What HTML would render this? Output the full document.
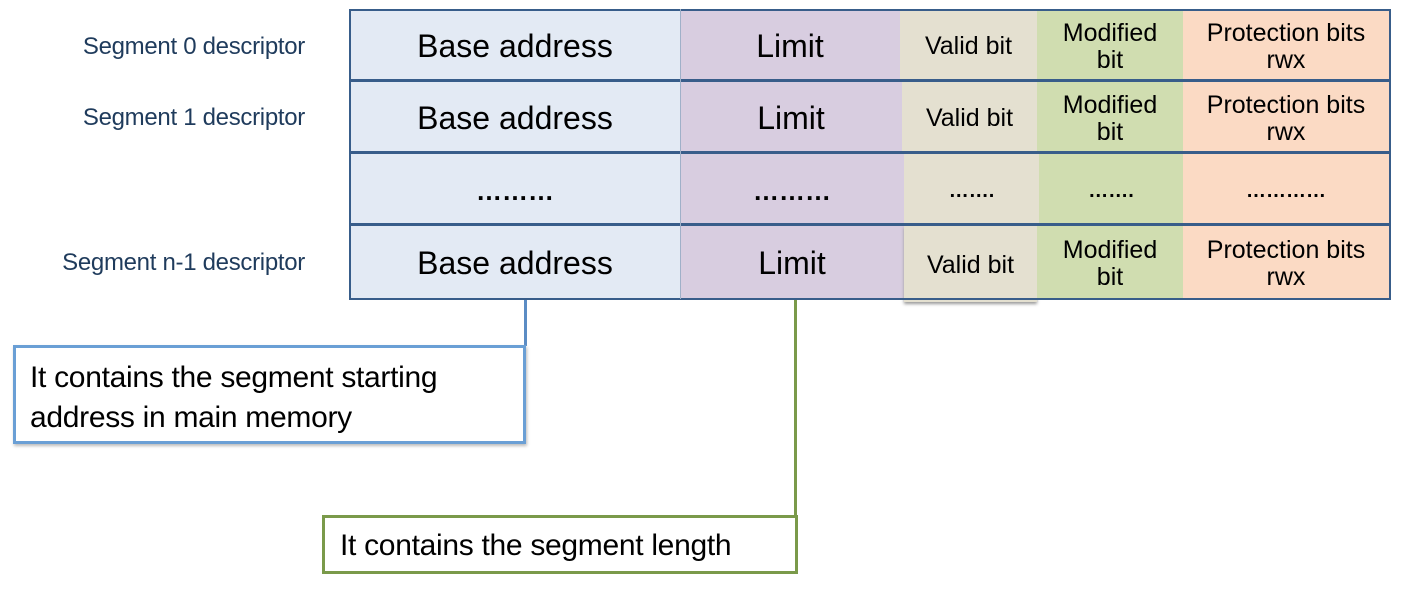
<!DOCTYPE html>
<html><head><style>
body{margin:0;width:1420px;height:602px;background:#fff;position:relative;font-family:"Liberation Sans",sans-serif;overflow:hidden}
.a{position:absolute;box-sizing:border-box}
.c{position:absolute;display:flex;align-items:center;justify-content:center;text-align:center;color:#000;box-sizing:border-box;line-height:1.1;padding-top:4px}
.lab{position:absolute;color:#1f3b5c;font-size:24px;width:305px;text-align:right;white-space:nowrap;letter-spacing:-0.3px}
.b{background:#e3eaf4;font-size:32px}
.l{background:#d8cde0;font-size:32px}
.v{background:#e4e0d0;font-size:25px}
.m{background:#d0ddb0;font-size:25px}
.p{background:#fbdac4;font-size:25px}
</style></head><body>
<div class="lab" style="left:0px;top:33px">Segment 0 descriptor</div>
<div class="lab" style="left:0px;top:104px">Segment 1 descriptor</div>
<div class="lab" style="left:0px;top:249px">Segment n-1 descriptor</div>

<div class="c b" style="left:350px;top:10px;width:330px;height:70px">Base address</div>
<div class="c l" style="left:680px;top:10px;width:220px;height:70px">Limit</div>
<div class="c v" style="left:900px;top:10px;width:137px;height:70px">Valid bit</div>
<div class="c m" style="left:1037px;top:10px;width:146px;height:70px">Modified<br>bit</div>
<div class="c p" style="left:1183px;top:10px;width:206px;height:70px">Protection bits<br>rwx</div>

<div class="c b" style="left:350px;top:82px;width:330px;height:70px">Base address</div>
<div class="c l" style="left:680px;top:82px;width:222px;height:70px">Limit</div>
<div class="c v" style="left:902px;top:82px;width:135px;height:70px">Valid bit</div>
<div class="c m" style="left:1037px;top:82px;width:146px;height:70px">Modified<br>bit</div>
<div class="c p" style="left:1183px;top:82px;width:206px;height:70px">Protection bits<br>rwx</div>

<div class="c b" style="left:350px;top:154px;width:330px;height:70px;font-size:26px;font-weight:bold">………</div>
<div class="c l" style="left:680px;top:154px;width:224px;height:70px;font-size:26px;font-weight:bold">………</div>
<div class="c v" style="left:904px;top:154px;width:135px;height:70px;font-size:20px;font-weight:bold">…….</div>
<div class="c m" style="left:1039px;top:154px;width:144px;height:70px;font-size:20px;font-weight:bold">…….</div>
<div class="c p" style="left:1183px;top:154px;width:206px;height:70px;font-size:20px;font-weight:bold">…………</div>

<div class="c b" style="left:350px;top:226px;width:330px;height:72px">Base address</div>
<div class="c l" style="left:680px;top:226px;width:224px;height:72px">Limit</div>
<div class="c v" style="left:904px;top:226px;width:133px;height:76px;box-shadow:0 2px 3px #999">Valid bit</div>
<div class="c m" style="left:1037px;top:226px;width:146px;height:72px">Modified<br>bit</div>
<div class="c p" style="left:1183px;top:226px;width:206px;height:72px">Protection bits<br>rwx</div>

<div class="a" style="left:349px;top:9px;width:1042px;height:291px;border:2px solid #385d8a"></div>
<div class="a" style="left:349px;top:79px;width:1042px;height:3px;background:#385d8a"></div>
<div class="a" style="left:349px;top:151px;width:1042px;height:3px;background:#385d8a"></div>
<div class="a" style="left:349px;top:223px;width:1042px;height:3px;background:#385d8a"></div>
<div class="a" style="left:680px;top:9px;width:1px;height:290px;background:#9fb0c8"></div>

<div class="a" style="left:524px;top:300px;width:3px;height:46px;background:#5b8cc4"></div>
<div class="a" style="left:13px;top:345px;width:513px;height:99px;border:3px solid #6a9fd5;box-shadow:1px 2px 3px #bbb"></div>
<div class="a" style="left:30px;top:358px;font-size:30px;line-height:40px;color:#000;white-space:nowrap;letter-spacing:-0.3px">It contains the segment starting<br>address in main memory</div>

<div class="a" style="left:794px;top:300px;width:3px;height:217px;background:#7a9a4a"></div>
<div class="a" style="left:322px;top:515px;width:476px;height:59px;border:3px solid #7a9a4a"></div>
<div class="a" style="left:340px;top:529px;font-size:30px;line-height:34px;color:#000;white-space:nowrap;letter-spacing:-0.3px">It contains the segment length</div>
</body></html>
